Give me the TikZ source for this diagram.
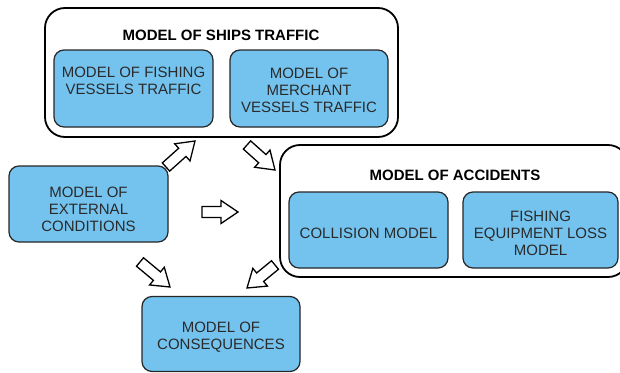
\documentclass[tikz,border=0pt]{standalone}
\usepackage{fontspec}
\setmainfont{Liberation Sans}
\usetikzlibrary{calc}
\definecolor{boxblue}{HTML}{74C3EF}
\definecolor{txt}{HTML}{2A2A2A}
\newcommand{\blockarr}[2]{%
  \coordinate (ba-c) at ($(#2)!17pt!(#1)$);
  \draw[barrow] ($(#1)!5.5pt!90:(#2)$) -- ($(ba-c)!5.5pt!-90:(#1)$) -- ($(ba-c)!11.5pt!-90:(#1)$) -- (#2)
    -- ($(ba-c)!11.5pt!90:(#1)$) -- ($(ba-c)!5.5pt!90:(#1)$) -- ($(#1)!5.5pt!-90:(#2)$) -- cycle;}
\newcommand{\up}[1]{\rule{0pt}{#1}}
\newcommand{\dn}[1]{\rule[-#1]{0pt}{#1}}
\tikzset{
  inner/.style={draw=black!85, line width=1.2pt, fill=boxblue, text=txt,
    rounded corners=10pt, align=center, inner sep=0pt, font=\fontsize{15}{17}\selectfont},
  outer/.style={draw=black, line width=1.8pt, fill=white, rounded corners=20pt, inner sep=0pt},
  title/.style={font=\bfseries\fontsize{15}{17}\selectfont, text=black, inner sep=0pt},
  barrow/.style={draw=black, line width=1.3pt, fill=white, line join=miter},
}
\begin{document}
\begin{tikzpicture}[x=1pt,y=-1pt]
\useasboundingbox (0,0) rectangle (620,372);
\clip (0,0) rectangle (620,372);
\fill[white] (0,0) rectangle (620,372);
% outer boxes
\node[outer, minimum width=353pt, minimum height=129pt] (ships) at (221.5,72.5) {};
\node[title] (shipst) at (221,35) {MODEL OF SHIPS TRAFFIC};
\node[inner, minimum width=159pt, minimum height=77pt] (fish) at (133.5,88.5) {MODEL OF FISHING\\VESSELS TRAFFIC\dn{15pt}};
\node[inner, minimum width=158pt, minimum height=77pt] (merch) at (309,88.5) {\up{15pt}MODEL OF\\MERCHANT\\VESSELS TRAFFIC};
\node[outer, minimum width=348pt, minimum height=132pt] (acc) at (454,211) {};
\node[title] (acct) at (455,175) {MODEL OF ACCIDENTS};
\node[inner, minimum width=159pt, minimum height=76pt] (coll) at (368.5,230) {\up{17pt}COLLISION MODEL};
\node[inner, minimum width=155pt, minimum height=76pt] (equip) at (540.5,230) {\up{18pt}FISHING\\EQUIPMENT LOSS\\MODEL};
\node[inner, minimum width=159pt, minimum height=76pt] (ext) at (88.5,204) {\up{21pt}MODEL OF\\EXTERNAL\\CONDITIONS};
\node[inner, minimum width=158pt, minimum height=75pt] (cons) at (221,334) {\up{16pt}MODEL OF\\CONSEQUENCES};
% arrow end points
\coordinate (a1s) at (166,167); \coordinate (a1e) at (195,141);
\coordinate (a2s) at (247,145); \coordinate (a2e) at (275,170);
\coordinate (a3s) at (202,212); \coordinate (a3e) at (238,212);
\coordinate (a4s) at (140,262); \coordinate (a4e) at (170,287);
\coordinate (a5s) at (275,265); \coordinate (a5e) at (247,288);
\blockarr{a1s}{a1e}
\blockarr{a2s}{a2e}
\blockarr{a3s}{a3e}
\blockarr{a4s}{a4e}
\blockarr{a5s}{a5e}
\end{tikzpicture}
\end{document}
